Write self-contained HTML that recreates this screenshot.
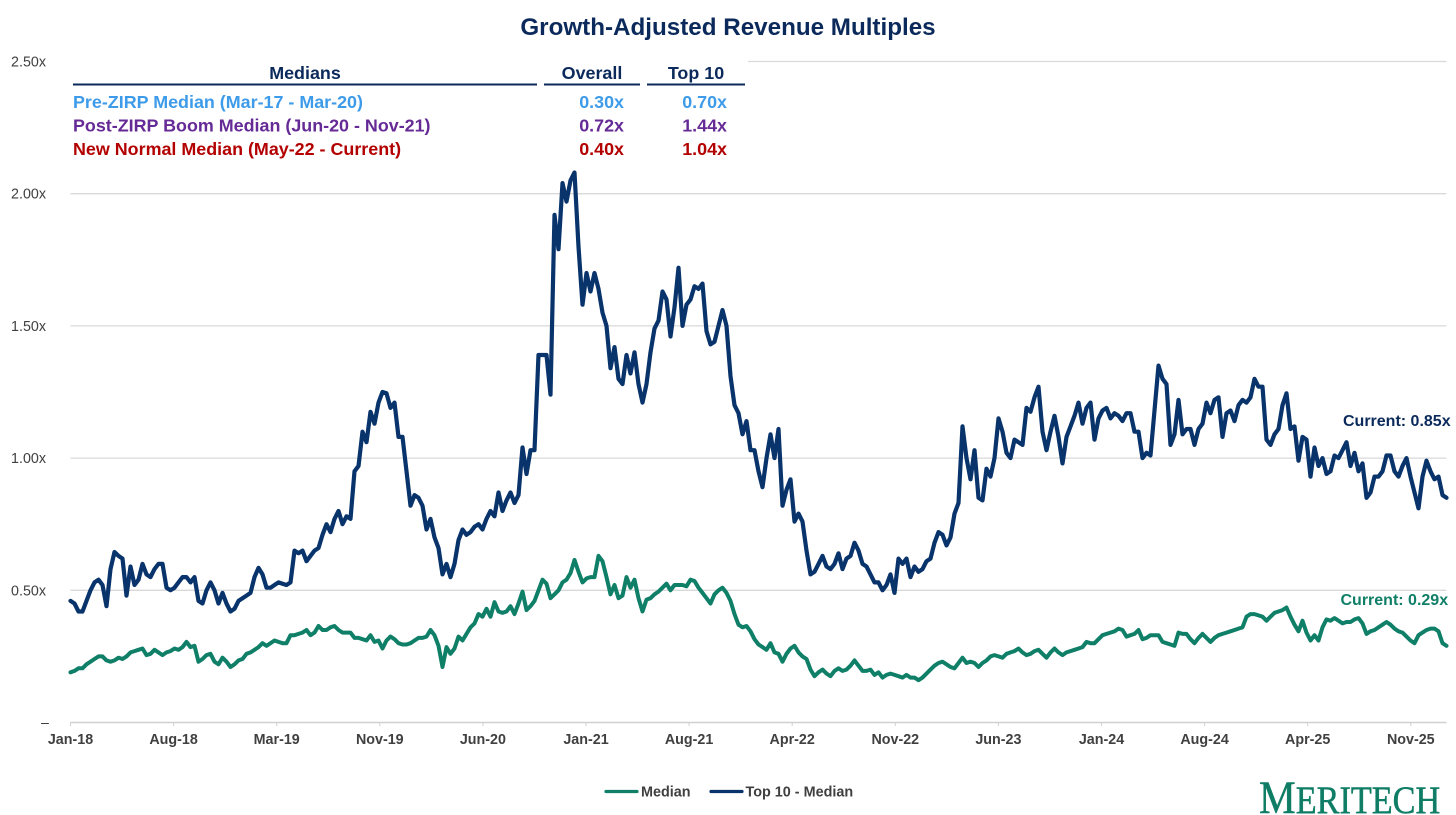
<!DOCTYPE html>
<html lang="en">
<head>
<meta charset="utf-8">
<title>Growth-Adjusted Revenue Multiples</title>
<style>
  html, body { margin: 0; padding: 0; background: #ffffff; width: 1456px; height: 815px; overflow: hidden; }
  svg { display: block; font-family: "Liberation Sans", Arial, sans-serif; }
  .grid { stroke: #d9d9d9; stroke-width: 1.3; }
  .ytick { font-size: 14.3px; fill: #404040; text-anchor: end; }
  .xtick { font-size: 14.3px; font-weight: 700; fill: #404040; text-anchor: middle; }
  .tbl { font-size: 17.9px; font-weight: 700; }
  .head { fill: #0b2a5b; text-anchor: middle; }
  .num { text-anchor: end; }
  .rule { stroke: #0b2a5b; stroke-width: 2; }
  .legend-text { font-size: 14.4px; font-weight: 700; fill: #404040; }
</style>
</head>
<body>
<svg id="chart" xmlns="http://www.w3.org/2000/svg" width="1456" height="815" viewBox="0 0 1456 815">
  <rect x="0" y="0" width="1456" height="815" fill="#ffffff"/>
  <text x="728" y="35" text-anchor="middle" font-size="24.2" font-weight="700" fill="#0b2a5b">Growth-Adjusted Revenue Multiples</text>

  <g id="grid-layer"></g>
  <g id="axis-layer"></g>
  <g id="series-layer"></g>

  <g>
    <rect x="66" y="55" width="682" height="30" fill="#ffffff"/>
    <text class="tbl head" x="305" y="79">Medians</text>
    <text class="tbl head" x="592" y="79">Overall</text>
    <text class="tbl head" x="696" y="79">Top 10</text>
    <line class="rule" x1="73" x2="537" y1="84.5" y2="84.5"/>
    <line class="rule" x1="544" x2="640" y1="84.5" y2="84.5"/>
    <line class="rule" x1="647" x2="745" y1="84.5" y2="84.5"/>

    <text class="tbl" x="73" y="108" fill="#3d9be9">Pre-ZIRP Median (Mar-17 - Mar-20)</text>
    <text class="tbl num" x="624" y="108" fill="#3d9be9">0.30x</text>
    <text class="tbl num" x="727" y="108" fill="#3d9be9">0.70x</text>

    <text class="tbl" x="73" y="131.5" fill="#652a96">Post-ZIRP Boom Median (Jun-20 - Nov-21)</text>
    <text class="tbl num" x="624" y="131.5" fill="#652a96">0.72x</text>
    <text class="tbl num" x="727" y="131.5" fill="#652a96">1.44x</text>

    <text class="tbl" x="73" y="155" fill="#b30000">New Normal Median (May-22 - Current)</text>
    <text class="tbl num" x="624" y="155" fill="#b30000">0.40x</text>
    <text class="tbl num" x="727" y="155" fill="#b30000">1.04x</text>
  </g>

  <text x="1343" y="426" font-size="16" font-weight="700" fill="#0b2a5b">Current: 0.85x</text>
  <text x="1340.5" y="605" font-size="16" font-weight="700" fill="#0f7f68">Current: 0.29x</text>

  <g>
    <g>
      <line x1="606" x2="637" y1="791.5" y2="791.5" stroke="#0f7f68" stroke-width="3.2" stroke-linecap="round"/>
      <text class="legend-text" x="641" y="796.5">Median</text>
    </g>
    <g>
      <line x1="711" x2="742" y1="791.5" y2="791.5" stroke="#08336b" stroke-width="3.2" stroke-linecap="round"/>
      <text class="legend-text" x="745.5" y="796.5">Top 10 - Median</text>
    </g>
  </g>

  <g transform="translate(1259,813) scale(0.878,1)">
    <text x="0" y="0" fill="#0f7d65" stroke="#0f7d65" stroke-width="0.5" style="font-family:'Liberation Serif',serif" font-size="47">M<tspan font-size="39">ERITECH</tspan></text>
  </g>
</svg>

<script>
const yTickValues = [0, 0.5, 1, 1.5, 2, 2.5];
const yTickLabels = ["–", "0.50x", "1.00x", "1.50x", "2.00x", "2.50x"];
const xTickLabels = ["Jan-18", "Aug-18", "Mar-19", "Nov-19", "Jun-20", "Jan-21", "Aug-21", "Apr-22", "Nov-22", "Jun-23", "Jan-24", "Aug-24", "Apr-25", "Nov-25"];

const medianValues = [
.19,.195,.205,.205,.22,.23,.24,.25,.25,.235,.23,.235,.245,.24,.25,.265,.27,.275,.28,.255,.26,.275,.265,.255,.265,
.27,.28,.275,.285,.305,.285,.29,.23,.24,.255,.26,.23,.22,.245,.23,.21,.22,.235,.24,.26,.265,.275,.285,.30,.29,
.30,.31,.305,.30,.30,.33,.33,.335,.34,.35,.33,.34,.365,.35,.35,.36,.365,.35,.34,.34,.34,.32,.32,.315,.31,
.33,.305,.31,.28,.31,.325,.315,.30,.295,.295,.30,.31,.32,.32,.325,.35,.33,.29,.21,.285,.26,.28,.325,.31,.335,
.36,.375,.41,.40,.43,.40,.455,.42,.415,.42,.44,.41,.45,.495,.425,.44,.46,.50,.54,.525,.47,.485,.50,.53,.54,
.565,.615,.57,.53,.545,.55,.55,.63,.61,.55,.485,.52,.47,.48,.55,.51,.54,.47,.42,.465,.47,.485,.495,.51,.525,
.50,.52,.52,.52,.515,.54,.535,.51,.49,.47,.45,.485,.50,.51,.49,.46,.41,.37,.36,.365,.345,.315,.295,.285,.275,
.30,.265,.26,.23,.26,.28,.29,.265,.25,.24,.20,.175,.19,.20,.185,.175,.195,.205,.195,.20,.215,.235,.215,.195,.195,
.20,.18,.19,.17,.18,.185,.18,.175,.17,.18,.17,.17,.16,.17,.185,.20,.215,.225,.23,.22,.21,.205,.225,.245,.225,
.23,.225,.21,.225,.235,.25,.255,.25,.245,.26,.265,.27,.28,.265,.255,.26,.27,.275,.26,.245,.265,.28,.265,.255,.265,
.27,.275,.28,.285,.305,.30,.30,.315,.33,.335,.34,.345,.355,.35,.325,.33,.335,.35,.315,.32,.33,.33,.33,.305,.30,
.295,.29,.34,.335,.335,.315,.30,.32,.335,.32,.305,.32,.33,.335,.34,.345,.35,.355,.36,.40,.41,.41,.405,.40,.385,
.40,.415,.42,.425,.435,.40,.37,.345,.385,.34,.31,.33,.31,.36,.39,.385,.395,.385,.375,.38,.38,.39,.395,.375,.335,
.345,.35,.36,.37,.38,.37,.355,.345,.34,.325,.31,.30,.33,.34,.35,.355,.355,.345,.30,.29
];

const top10Values = [
.46,.45,.42,.42,.46,.50,.53,.54,.52,.44,.58,.645,.63,.62,.48,.59,.52,.54,.60,.56,.55,.58,.60,.60,.51,
.50,.51,.53,.55,.55,.53,.55,.46,.45,.50,.53,.50,.45,.49,.45,.42,.43,.46,.47,.48,.49,.55,.585,.56,.51,
.51,.52,.53,.525,.52,.53,.65,.64,.65,.61,.63,.65,.66,.71,.75,.72,.77,.80,.75,.78,.77,.95,.97,1.10,1.06,
1.175,1.13,1.21,1.25,1.245,1.19,1.21,1.08,1.08,.95,.82,.86,.85,.82,.73,.77,.70,.66,.56,.60,.55,.60,.69,.73,.71,
.72,.74,.75,.73,.77,.80,.78,.87,.80,.84,.87,.83,.86,1.04,.94,1.03,1.03,1.39,1.39,1.39,1.24,1.92,1.79,2.04,1.97,
2.05,2.08,1.80,1.58,1.70,1.63,1.70,1.64,1.55,1.50,1.34,1.42,1.30,1.28,1.39,1.32,1.40,1.28,1.21,1.28,1.40,1.49,1.52,1.63,1.60,
1.46,1.57,1.72,1.50,1.58,1.60,1.65,1.64,1.66,1.48,1.43,1.44,1.50,1.56,1.50,1.31,1.20,1.17,1.09,1.14,1.03,1.03,.95,.89,1.0,
1.09,1.0,1.11,.82,.88,.92,.76,.79,.76,.65,.56,.57,.60,.63,.59,.58,.60,.64,.58,.62,.63,.68,.65,.60,.59,
.56,.53,.53,.50,.52,.56,.49,.62,.60,.62,.55,.59,.57,.58,.61,.62,.68,.72,.71,.67,.70,.79,.83,1.12,1.0,
.92,1.03,.85,.84,.96,.93,1.0,1.15,1.10,1.02,1.0,1.07,1.06,1.05,1.19,1.175,1.23,1.27,1.10,1.03,1.10,1.16,1.08,.98,1.08,
1.12,1.16,1.21,1.13,1.19,1.21,1.07,1.15,1.18,1.19,1.15,1.17,1.16,1.14,1.17,1.17,1.10,1.10,1.0,1.02,1.01,1.18,1.35,1.30,1.28,
1.05,1.09,1.22,1.09,1.11,1.11,1.05,1.11,1.13,1.21,1.17,1.22,1.23,1.08,1.17,1.18,1.14,1.20,1.22,1.21,1.23,1.30,1.27,1.27,1.07,
1.05,1.09,1.11,1.20,1.245,1.11,1.12,.99,1.08,1.07,.93,1.04,.97,1.0,.94,.95,1.01,1.0,1.03,1.06,.97,1.02,.95,.98,.85,
.87,.93,.93,.95,1.01,1.01,.95,.93,.97,1.0,.93,.87,.81,.93,.99,.95,.92,.93,.86,.85
];

const svgNS = "http://www.w3.org/2000/svg";
const plotLeft = 70.5;
const plotRight = 1446.5;
const plotBottom = 722.5;
const plotTop = 61.5;
const samplesPerTick = 25.775;
const lastSampleIndex = 344;

function xScale(sampleIndex) {
  return plotLeft + sampleIndex * (plotRight - plotLeft) / lastSampleIndex;
}
function yScale(value) {
  return plotBottom - value * (plotBottom - plotTop) / 2.5;
}
function make(tag, attrs) {
  const el = document.createElementNS(svgNS, tag);
  Object.keys(attrs).forEach(function (k) { el.setAttribute(k, attrs[k]); });
  return el;
}

const gridLayer = document.getElementById("grid-layer");
const axisLayer = document.getElementById("axis-layer");
const seriesLayer = document.getElementById("series-layer");

yTickValues.forEach(function (v, i) {
  const y = yScale(v);
  if (v > 0) {
    const line = make("line", { x1: plotLeft, x2: plotRight, y1: y, y2: y, "class": "grid" });
    
    
    gridLayer.appendChild(line);
  }
  const label = make("text", { x: v > 0 ? 46 : 49, y: y + 5, "class": "ytick" });
  
  
  label.textContent = yTickLabels[i];
  axisLayer.appendChild(label);
});

const xAxisLine = make("line", { x1: plotLeft, x2: plotRight, y1: plotBottom, y2: plotBottom, stroke: "#d0d0d0", "stroke-width": 1.4 });


axisLayer.appendChild(xAxisLine);

xTickLabels.forEach(function (text, k) {
  const x = xScale(k * samplesPerTick);
  const tick = make("line", { x1: x, x2: x, y1: plotBottom, y2: plotBottom + 3.5, stroke: "#d0d0d0", "stroke-width": 1 });
  
  
  axisLayer.appendChild(tick);
  const label = make("text", { x: x, y: 744, "class": "xtick" });
  
  
  label.textContent = text;
  axisLayer.appendChild(label);
});

function linePath(values) {
  return values.map(function (v, i) {
    return (i ? "L" : "M") + xScale(i).toFixed(1) + " " + yScale(v).toFixed(1);
  }).join(" ");
}

const medianLine = make("path", { d: linePath(medianValues), fill: "none", stroke: "#0f7f68", "stroke-width": 4, "stroke-linejoin": "round", "stroke-linecap": "round" });


seriesLayer.appendChild(medianLine);

const top10Line = make("path", { d: linePath(top10Values), fill: "none", stroke: "#08336b", "stroke-width": 4.2, "stroke-linejoin": "round", "stroke-linecap": "round" });


seriesLayer.appendChild(top10Line);
</script>
</body>
</html>
